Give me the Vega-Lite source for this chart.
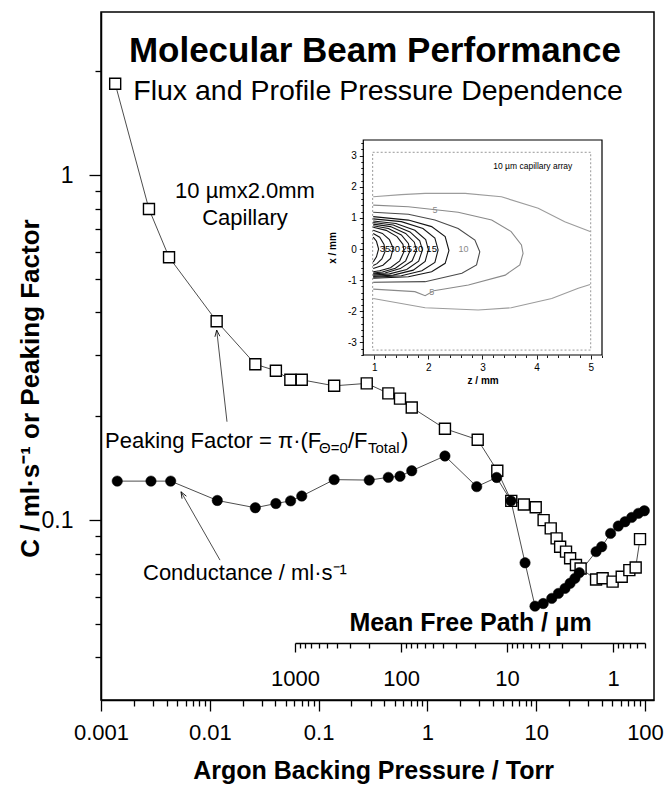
{
  "$schema": "https://vega.github.io/schema/vega-lite/v6.json",
  "width": 553,
  "height": 688,
  "autosize": "none",
  "padding": {"left": 101, "top": 12, "right": 13, "bottom": 86},
  "background": "white",
  "config": {
    "font": "Liberation Sans",
    "view": {"stroke": "black", "strokeWidth": 1.5},
    "axis": {"grid": false, "domainColor": "black", "tickColor": "black", "labelColor": "black", "titleColor": "black", "labelFont": "Liberation Sans", "titleFont": "Liberation Sans", "labelOverlap": false, "labelFlush": false, "labelBound": false}
  },
  "datasets": {
    "sq": [
      {"P": 0.00135, "C": 1.84}, {"P": 0.00276, "C": 0.797}, {"P": 0.00422, "C": 0.578}, {"P": 0.01156, "C": 0.377},
      {"P": 0.0262, "C": 0.283}, {"P": 0.0405, "C": 0.271}, {"P": 0.055, "C": 0.255}, {"P": 0.07, "C": 0.255},
      {"P": 0.139, "C": 0.245}, {"P": 0.277, "C": 0.249}, {"P": 0.4375, "C": 0.233}, {"P": 0.56, "C": 0.225},
      {"P": 0.718, "C": 0.212}, {"P": 1.45, "C": 0.184}, {"P": 2.9, "C": 0.171}, {"P": 4.39, "C": 0.139},
      {"P": 5.9, "C": 0.1137}, {"P": 7.7, "C": 0.111}, {"P": 9.9, "C": 0.109}, {"P": 11.7, "C": 0.1},
      {"P": 13.6, "C": 0.0946}, {"P": 15.4, "C": 0.0885}, {"P": 16.6, "C": 0.0837}, {"P": 18.8, "C": 0.081},
      {"P": 20.5, "C": 0.0775}, {"P": 23.2, "C": 0.0741}, {"P": 25.6, "C": 0.0724}, {"P": 35.5, "C": 0.0673},
      {"P": 40.8, "C": 0.0678}, {"P": 50.4, "C": 0.0663}, {"P": 61.1, "C": 0.0685}, {"P": 71.8, "C": 0.0716},
      {"P": 82.1, "C": 0.0729}, {"P": 90, "C": 0.0881}
    ],
    "ci": [
      {"P": 0.00141, "C": 0.1297}, {"P": 0.00288, "C": 0.1297}, {"P": 0.00437, "C": 0.1297}, {"P": 0.01172, "C": 0.114},
      {"P": 0.0262, "C": 0.1086}, {"P": 0.0405, "C": 0.1117}, {"P": 0.0553, "C": 0.1137}, {"P": 0.07, "C": 0.1174},
      {"P": 0.139, "C": 0.131}, {"P": 0.292, "C": 0.1306}, {"P": 0.4375, "C": 0.133}, {"P": 0.56, "C": 0.134},
      {"P": 0.718, "C": 0.139}, {"P": 1.45, "C": 0.1534}, {"P": 2.84, "C": 0.125}, {"P": 4.33, "C": 0.1329},
      {"P": 5.86, "C": 0.1137}, {"P": 7.9, "C": 0.0752}, {"P": 9.75, "C": 0.0563}, {"P": 11.6, "C": 0.0573},
      {"P": 13.9, "C": 0.0593}, {"P": 16.0, "C": 0.0613}, {"P": 18.4, "C": 0.0634}, {"P": 20.5, "C": 0.0656},
      {"P": 22.7, "C": 0.0678}, {"P": 24.9, "C": 0.0704}, {"P": 35.5, "C": 0.081}, {"P": 40.0, "C": 0.0837},
      {"P": 48.3, "C": 0.0915}, {"P": 56.8, "C": 0.0961}, {"P": 65.5, "C": 0.0989}, {"P": 75.5, "C": 0.1018},
      {"P": 86.9, "C": 0.1046}, {"P": 98.6, "C": 0.1064}
    ],
    "arrows": [
      {"arrow": "pf", "part": "tail", "P": 0.01439, "C": 0.1928},
      {"arrow": "pf", "part": "head", "P": 0.01157, "C": 0.3554},
      {"arrow": "cd", "part": "tail", "P": 0.01241, "C": 0.07656},
      {"arrow": "cd", "part": "head", "P": 0.005436, "C": 0.1208}
    ],
    "txt": [
      {"t": "Molecular Beam Performance", "P": 0.3296, "C": 2.126, "kind": "title"},
      {"t": "Flux and Profile Pressure Dependence", "P": 0.3516, "C": 1.65, "kind": "subtitle"},
      {"t": "10 µmx2.0mm", "P": 0.02106, "C": 0.858, "kind": "note"},
      {"t": "Capillary", "P": 0.02106, "C": 0.716, "kind": "note"},
      {"t": "Peaking Factor = π·(F", "P": 0.001088, "C": 0.1617, "kind": "label"},
      {"t": "Θ=0", "P": 0.1009, "C": 0.1564, "kind": "sub"},
      {"t": "/F", "P": 0.1863, "C": 0.1617, "kind": "label"},
      {"t": "Total", "P": 0.2844, "C": 0.1564, "kind": "sub"},
      {"t": ")", "P": 0.5721, "C": 0.1617, "kind": "label"},
      {"t": "Conductance / ml·s⁻¹", "P": 0.002432, "C": 0.067, "kind": "label"}
    ],
    "frames": [
      {"frame": "outer", "zmm": 0.797, "zmm2": 5.209, "xmm": -3.408, "xmm2": 3.505},
      {"frame": "inner", "zmm": 0.97, "zmm2": 5.0, "xmm": -3.25, "xmm2": 3.11}
    ],
    "contours": [
      {"c": "2.5t", "lev": "2.5", "i": 0, "zmm": 0.98, "xmm": 1.68}, {"c": "2.5t", "lev": "2.5", "i": 1, "zmm": 1.5, "xmm": 1.75},
      {"c": "2.5t", "lev": "2.5", "i": 2, "zmm": 1.94, "xmm": 1.79}, {"c": "2.5t", "lev": "2.5", "i": 3, "zmm": 2.68, "xmm": 1.79},
      {"c": "2.5t", "lev": "2.5", "i": 4, "zmm": 3.35, "xmm": 1.68}, {"c": "2.5t", "lev": "2.5", "i": 5, "zmm": 4.03, "xmm": 1.31},
      {"c": "2.5t", "lev": "2.5", "i": 6, "zmm": 4.52, "xmm": 0.88}, {"c": "2.5t", "lev": "2.5", "i": 7, "zmm": 4.99, "xmm": 0.56},
      {"c": "2.5b", "lev": "2.5", "i": 0, "zmm": 0.98, "xmm": -1.59}, {"c": "2.5b", "lev": "2.5", "i": 1, "zmm": 1.94, "xmm": -1.89},
      {"c": "2.5b", "lev": "2.5", "i": 2, "zmm": 2.92, "xmm": -1.96}, {"c": "2.5b", "lev": "2.5", "i": 3, "zmm": 3.53, "xmm": -1.89},
      {"c": "2.5b", "lev": "2.5", "i": 4, "zmm": 4.28, "xmm": -1.59}, {"c": "2.5b", "lev": "2.5", "i": 5, "zmm": 4.77, "xmm": -1.26},
      {"c": "2.5b", "lev": "2.5", "i": 6, "zmm": 4.99, "xmm": -1.14},
      {"c": "5", "lev": "5", "i": 0, "zmm": 0.98, "xmm": 1.41}, {"c": "5", "lev": "5", "i": 1, "zmm": 1.63, "xmm": 1.36},
      {"c": "5", "lev": "5", "i": 2, "zmm": 2.55, "xmm": 1.18}, {"c": "5", "lev": "5", "i": 3, "zmm": 3.17, "xmm": 0.93},
      {"c": "5", "lev": "5", "i": 4, "zmm": 3.53, "xmm": 0.56}, {"c": "5", "lev": "5", "i": 5, "zmm": 3.72, "xmm": 0.13},
      {"c": "5", "lev": "5", "i": 6, "zmm": 3.75, "xmm": -0.14}, {"c": "5", "lev": "5", "i": 7, "zmm": 3.69, "xmm": -0.51},
      {"c": "5", "lev": "5", "i": 8, "zmm": 3.42, "xmm": -0.84}, {"c": "5", "lev": "5", "i": 9, "zmm": 2.74, "xmm": -1.16},
      {"c": "5", "lev": "5", "i": 10, "zmm": 2.1, "xmm": -1.34}, {"c": "5", "lev": "5", "i": 11, "zmm": 1.94, "xmm": -1.5},
      {"c": "5", "lev": "5", "i": 12, "zmm": 1.75, "xmm": -1.37}, {"c": "5", "lev": "5", "i": 13, "zmm": 0.98, "xmm": -1.29},
      {"c": "10", "lev": "10", "i": 0, "zmm": 0.98, "xmm": 1.18}, {"c": "10", "lev": "10", "i": 1, "zmm": 1.63, "xmm": 1.12},
      {"c": "10", "lev": "10", "i": 2, "zmm": 2.12, "xmm": 0.93}, {"c": "10", "lev": "10", "i": 3, "zmm": 2.55, "xmm": 0.66},
      {"c": "10", "lev": "10", "i": 4, "zmm": 2.86, "xmm": 0.29}, {"c": "10", "lev": "10", "i": 5, "zmm": 2.95, "xmm": -0.09},
      {"c": "10", "lev": "10", "i": 6, "zmm": 2.89, "xmm": -0.51}, {"c": "10", "lev": "10", "i": 7, "zmm": 2.62, "xmm": -0.78},
      {"c": "10", "lev": "10", "i": 8, "zmm": 1.94, "xmm": -1.05}, {"c": "10", "lev": "10", "i": 9, "zmm": 0.98, "xmm": -1.07},
      {"c": "15", "lev": "15", "i": 0, "zmm": 0.98, "xmm": 1.04}, {"c": "15", "lev": "15", "i": 1, "zmm": 1.63, "xmm": 0.93},
      {"c": "15", "lev": "15", "i": 2, "zmm": 2.06, "xmm": 0.72}, {"c": "15", "lev": "15", "i": 3, "zmm": 2.31, "xmm": 0.4},
      {"c": "15", "lev": "15", "i": 4, "zmm": 2.38, "xmm": -0.05}, {"c": "15", "lev": "15", "i": 5, "zmm": 2.31, "xmm": -0.46},
      {"c": "15", "lev": "15", "i": 6, "zmm": 2.06, "xmm": -0.73}, {"c": "15", "lev": "15", "i": 7, "zmm": 1.63, "xmm": -0.89},
      {"c": "15", "lev": "15", "i": 8, "zmm": 0.98, "xmm": -0.94},
      {"c": "17.5", "lev": "17.5", "i": 0, "zmm": 0.98, "xmm": 0.97}, {"c": "17.5", "lev": "17.5", "i": 1, "zmm": 1.5, "xmm": 0.88},
      {"c": "17.5", "lev": "17.5", "i": 2, "zmm": 1.9, "xmm": 0.66}, {"c": "17.5", "lev": "17.5", "i": 3, "zmm": 2.12, "xmm": 0.35},
      {"c": "17.5", "lev": "17.5", "i": 4, "zmm": 2.18, "xmm": -0.03}, {"c": "17.5", "lev": "17.5", "i": 5, "zmm": 2.12, "xmm": -0.43},
      {"c": "17.5", "lev": "17.5", "i": 6, "zmm": 1.88, "xmm": -0.7}, {"c": "17.5", "lev": "17.5", "i": 7, "zmm": 1.5, "xmm": -0.86},
      {"c": "17.5", "lev": "17.5", "i": 8, "zmm": 0.98, "xmm": -0.91},
      {"c": "20", "lev": "20", "i": 0, "zmm": 0.98, "xmm": 0.9}, {"c": "20", "lev": "20", "i": 1, "zmm": 1.4, "xmm": 0.82},
      {"c": "20", "lev": "20", "i": 2, "zmm": 1.75, "xmm": 0.6}, {"c": "20", "lev": "20", "i": 3, "zmm": 1.95, "xmm": 0.3},
      {"c": "20", "lev": "20", "i": 4, "zmm": 2.0, "xmm": -0.02}, {"c": "20", "lev": "20", "i": 5, "zmm": 1.94, "xmm": -0.4},
      {"c": "20", "lev": "20", "i": 6, "zmm": 1.72, "xmm": -0.68}, {"c": "20", "lev": "20", "i": 7, "zmm": 1.35, "xmm": -0.84},
      {"c": "20", "lev": "20", "i": 8, "zmm": 0.98, "xmm": -0.88},
      {"c": "22.5", "lev": "22.5", "i": 0, "zmm": 0.98, "xmm": 0.85}, {"c": "22.5", "lev": "22.5", "i": 1, "zmm": 1.35, "xmm": 0.77},
      {"c": "22.5", "lev": "22.5", "i": 2, "zmm": 1.66, "xmm": 0.55}, {"c": "22.5", "lev": "22.5", "i": 3, "zmm": 1.84, "xmm": 0.26},
      {"c": "22.5", "lev": "22.5", "i": 4, "zmm": 1.89, "xmm": -0.03}, {"c": "22.5", "lev": "22.5", "i": 5, "zmm": 1.82, "xmm": -0.39},
      {"c": "22.5", "lev": "22.5", "i": 6, "zmm": 1.6, "xmm": -0.66}, {"c": "22.5", "lev": "22.5", "i": 7, "zmm": 1.28, "xmm": -0.8},
      {"c": "22.5", "lev": "22.5", "i": 8, "zmm": 0.98, "xmm": -0.84},
      {"c": "25", "lev": "25", "i": 0, "zmm": 0.98, "xmm": 0.8}, {"c": "25", "lev": "25", "i": 1, "zmm": 1.3, "xmm": 0.72},
      {"c": "25", "lev": "25", "i": 2, "zmm": 1.58, "xmm": 0.5}, {"c": "25", "lev": "25", "i": 3, "zmm": 1.74, "xmm": 0.22},
      {"c": "25", "lev": "25", "i": 4, "zmm": 1.78, "xmm": -0.05}, {"c": "25", "lev": "25", "i": 5, "zmm": 1.7, "xmm": -0.38},
      {"c": "25", "lev": "25", "i": 6, "zmm": 1.48, "xmm": -0.63}, {"c": "25", "lev": "25", "i": 7, "zmm": 1.2, "xmm": -0.77},
      {"c": "25", "lev": "25", "i": 8, "zmm": 0.98, "xmm": -0.8},
      {"c": "27.5", "lev": "27.5", "i": 0, "zmm": 0.98, "xmm": 0.75}, {"c": "27.5", "lev": "27.5", "i": 1, "zmm": 1.26, "xmm": 0.66},
      {"c": "27.5", "lev": "27.5", "i": 2, "zmm": 1.5, "xmm": 0.45}, {"c": "27.5", "lev": "27.5", "i": 3, "zmm": 1.63, "xmm": 0.18},
      {"c": "27.5", "lev": "27.5", "i": 4, "zmm": 1.66, "xmm": -0.06}, {"c": "27.5", "lev": "27.5", "i": 5, "zmm": 1.58, "xmm": -0.38},
      {"c": "27.5", "lev": "27.5", "i": 6, "zmm": 1.39, "xmm": -0.62}, {"c": "27.5", "lev": "27.5", "i": 7, "zmm": 1.15, "xmm": -0.74},
      {"c": "27.5", "lev": "27.5", "i": 8, "zmm": 0.98, "xmm": -0.77},
      {"c": "30", "lev": "30", "i": 0, "zmm": 0.98, "xmm": 0.7}, {"c": "30", "lev": "30", "i": 1, "zmm": 1.22, "xmm": 0.6},
      {"c": "30", "lev": "30", "i": 2, "zmm": 1.42, "xmm": 0.4}, {"c": "30", "lev": "30", "i": 3, "zmm": 1.53, "xmm": 0.15},
      {"c": "30", "lev": "30", "i": 4, "zmm": 1.55, "xmm": -0.08}, {"c": "30", "lev": "30", "i": 5, "zmm": 1.47, "xmm": -0.38},
      {"c": "30", "lev": "30", "i": 6, "zmm": 1.3, "xmm": -0.6}, {"c": "30", "lev": "30", "i": 7, "zmm": 1.1, "xmm": -0.7},
      {"c": "30", "lev": "30", "i": 8, "zmm": 0.98, "xmm": -0.73},
      {"c": "35", "lev": "35", "i": 0, "zmm": 0.98, "xmm": 0.6}, {"c": "35", "lev": "35", "i": 1, "zmm": 1.15, "xmm": 0.5},
      {"c": "35", "lev": "35", "i": 2, "zmm": 1.28, "xmm": 0.3}, {"c": "35", "lev": "35", "i": 3, "zmm": 1.35, "xmm": 0.02},
      {"c": "35", "lev": "35", "i": 4, "zmm": 1.3, "xmm": -0.3}, {"c": "35", "lev": "35", "i": 5, "zmm": 1.16, "xmm": -0.52},
      {"c": "35", "lev": "35", "i": 6, "zmm": 0.98, "xmm": -0.63},
      {"c": "40", "lev": "40", "i": 0, "zmm": 0.98, "xmm": 0.5}, {"c": "40", "lev": "40", "i": 1, "zmm": 1.1, "xmm": 0.38},
      {"c": "40", "lev": "40", "i": 2, "zmm": 1.18, "xmm": 0.15}, {"c": "40", "lev": "40", "i": 3, "zmm": 1.2, "xmm": -0.08},
      {"c": "40", "lev": "40", "i": 4, "zmm": 1.14, "xmm": -0.32}, {"c": "40", "lev": "40", "i": 5, "zmm": 1.05, "xmm": -0.47},
      {"c": "40", "lev": "40", "i": 6, "zmm": 0.98, "xmm": -0.53},
      {"c": "45", "lev": "45", "i": 0, "zmm": 0.98, "xmm": 0.38}, {"c": "45", "lev": "45", "i": 1, "zmm": 1.04, "xmm": 0.25},
      {"c": "45", "lev": "45", "i": 2, "zmm": 1.08, "xmm": 0.0}, {"c": "45", "lev": "45", "i": 3, "zmm": 1.04, "xmm": -0.25},
      {"c": "45", "lev": "45", "i": 4, "zmm": 0.98, "xmm": -0.42}
    ],
    "itxt": [
      {"t": "35", "zmm": 1.2, "xmm": 0, "kind": "num"},
      {"t": "30", "zmm": 1.38, "xmm": 0, "kind": "num"},
      {"t": "25", "zmm": 1.6, "xmm": 0, "kind": "num"},
      {"t": "20", "zmm": 1.81, "xmm": 0, "kind": "num"},
      {"t": "15", "zmm": 2.06, "xmm": 0, "kind": "num"},
      {"t": "10", "zmm": 2.65, "xmm": 0, "kind": "gray"},
      {"t": "5", "zmm": 2.12, "xmm": 1.25, "kind": "gray"},
      {"t": "5", "zmm": 2.06, "xmm": -1.37, "kind": "gray"},
      {"t": "10 µm capillary array", "zmm": 3.93, "xmm": 2.68, "kind": "cap"}
    ]
  },
  "resolve": {"scale": {"x": "independent", "y": "independent"}, "axis": {"x": "independent", "y": "independent"}},
  "layer": [
    {
      "encoding": {
        "x": {
          "field": "P", "type": "quantitative",
          "scale": {"type": "log", "domain": [0.001, 121], "nice": false},
          "axis": {
            "orient": "bottom",
            "values": [0.001,0.002,0.003,0.004,0.005,0.006,0.007,0.008,0.009,0.01,0.02,0.03,0.04,0.05,0.06,0.07,0.08,0.09,0.1,0.2,0.3,0.4,0.5,0.6,0.7,0.8,0.9,1,2,3,4,5,6,7,8,9,10,20,30,40,50,60,70,80,90,100],
            "labelExpr": "indexof([0.001,0.01,0.1,1,10,100], datum.value) >= 0 ? format(datum.value, '~g') : ''",
            "tickSize": {"condition": {"test": "indexof([0.001,0.01,0.1,1,10,100], datum.value) >= 0", "value": 11}, "value": 6},
            "tickWidth": 1.3, "domainWidth": 1.5,
            "labelPadding": 11, "labelFontSize": 22,
            "title": "Argon Backing Pressure / Torr", "titleFontSize": 25, "titleFontWeight": "bold",
            "titleX": 272, "titleY": 78, "titleAlign": "center", "titleBaseline": "alphabetic"
          }
        },
        "y": {
          "field": "C", "type": "quantitative",
          "scale": {"type": "log", "domain": [0.0301, 2.969], "nice": false},
          "axis": {
            "orient": "left",
            "values": [0.04,0.05,0.06,0.07,0.08,0.09,0.1,0.2,0.3,0.4,0.5,0.6,0.7,0.8,0.9,1,2],
            "labelExpr": "datum.value == 0.1 || datum.value == 1 ? format(datum.value, '~g') : ''",
            "tickSize": {"condition": {"test": "datum.value == 0.1 || datum.value == 1", "value": 12}, "value": 6},
            "tickWidth": 1.3, "domainWidth": 1.5,
            "labelPadding": 16, "labelFontSize": 23,
            "title": "C / ml·s⁻¹ or Peaking Factor", "titleFontSize": 26, "titleFontWeight": "bold",
            "titleX": -63, "titleY": 376, "titleAngle": 270, "titleAlign": "center", "titleBaseline": "alphabetic"
          }
        }
      },
      "layer": [
        {"data": {"name": "sq"}, "mark": {"type": "line", "stroke": "black", "strokeWidth": 0.7}},
        {"data": {"name": "ci"}, "mark": {"type": "line", "stroke": "black", "strokeWidth": 0.7}},
        {"data": {"name": "arrows"}, "mark": {"type": "line", "stroke": "black", "strokeWidth": 0.7}, "encoding": {"detail": {"field": "arrow"}}},
        {"data": {"name": "arrows"}, "transform": [{"filter": "datum.arrow == 'pf' && datum.part == 'head'"}],
         "mark": {"type": "point", "shape": "M -1 2.6 L 0 0 L 1 2.6", "size": 25, "angle": 353.6, "filled": false, "stroke": "black", "strokeWidth": 0.8, "opacity": 1}},
        {"data": {"name": "arrows"}, "transform": [{"filter": "datum.arrow == 'cd' && datum.part == 'head'"}],
         "mark": {"type": "point", "shape": "M -1 2.6 L 0 0 L 1 2.6", "size": 25, "angle": 330.3, "filled": false, "stroke": "black", "strokeWidth": 0.8, "opacity": 1}},
        {"data": {"name": "sq"}, "mark": {"type": "point", "shape": "square", "size": 121, "filled": true, "fill": "white", "stroke": "black", "strokeWidth": 1.4, "opacity": 1}},
        {"data": {"name": "ci"}, "mark": {"type": "point", "shape": "circle", "size": 108, "filled": true, "fill": "black", "stroke": "black", "strokeWidth": 0.5, "opacity": 1}},
        {"data": {"name": "txt"}, "transform": [{"filter": "datum.kind == 'title'"}],
         "mark": {"type": "text", "fontSize": 35, "fontWeight": "bold", "align": "center", "baseline": "alphabetic", "color": "black"},
         "encoding": {"text": {"field": "t"}}},
        {"data": {"name": "txt"}, "transform": [{"filter": "datum.kind == 'subtitle'"}],
         "mark": {"type": "text", "fontSize": 28.5, "align": "center", "baseline": "alphabetic", "color": "black"},
         "encoding": {"text": {"field": "t"}}},
        {"data": {"name": "txt"}, "transform": [{"filter": "datum.kind == 'note'"}],
         "mark": {"type": "text", "fontSize": 22, "align": "center", "baseline": "alphabetic", "color": "black"},
         "encoding": {"text": {"field": "t"}}},
        {"data": {"name": "txt"}, "transform": [{"filter": "datum.kind == 'label'"}],
         "mark": {"type": "text", "fontSize": 22, "align": "left", "baseline": "alphabetic", "color": "black"},
         "encoding": {"text": {"field": "t"}}},
        {"data": {"name": "txt"}, "transform": [{"filter": "datum.kind == 'sub'"}],
         "mark": {"type": "text", "fontSize": 15, "align": "left", "baseline": "alphabetic", "color": "black"},
         "encoding": {"text": {"field": "t"}}}
      ]
    },
    {
      "mark": {"type": "point", "opacity": 0},
      "encoding": {
        "x": {
          "datum": 1000, "type": "quantitative",
          "scale": {"type": "log", "domain": [1000, 0.5], "range": [194, 544], "nice": false},
          "axis": {
            "orient": "bottom", "offset": -57,
            "values": [1000,900,800,700,600,500,400,300,200,100,90,80,70,60,50,40,30,20,10,9,8,7,6,5,4,3,2,1,0.9,0.8,0.7,0.6,0.5],
            "labelExpr": "indexof([1000,100,10,1], datum.value) >= 0 ? format(datum.value, '~g') : ''",
            "tickSize": {"condition": {"test": "indexof([1000,100,10,1], datum.value) >= 0", "value": 9}, "value": 5},
            "tickWidth": 1.3, "domainWidth": 1.5,
            "labelPadding": 16, "labelFontSize": 22,
            "title": "Mean Free Path / µm", "titleFontSize": 25, "titleFontWeight": "bold",
            "titleX": 369, "titleY": -13, "titleAlign": "center", "titleBaseline": "alphabetic"
          }
        }
      }
    },
    {
      "encoding": {
        "x": {
          "field": "zmm", "type": "quantitative",
          "scale": {"domain": [0.797, 5.209], "range": [262.3, 501], "nice": false, "zero": false},
          "axis": {
            "orient": "bottom", "offset": -345, "domain": false,
            "values": [1,1.2,1.4,1.6,1.8,2,2.2,2.4,2.6,2.8,3,3.2,3.4,3.6,3.8,4,4.2,4.4,4.6,4.8,5,5.2],
            "labelExpr": "datum.value == round(datum.value) ? '' + datum.value : ''",
            "tickSize": {"condition": {"test": "datum.value == round(datum.value)", "value": 4}, "value": 2.5},
            "tickWidth": 0.9, "labelPadding": 3, "labelFontSize": 10,
            "title": "z / mm", "titleFontSize": 10, "titleFontWeight": "bold", "titlePadding": 3
          }
        },
        "y": {
          "field": "xmm", "type": "quantitative",
          "scale": {"domain": [-3.408, 3.505], "range": [343, 128], "nice": false, "zero": false},
          "axis": {
            "orient": "left", "offset": -262.3, "domain": false,
            "values": [-3.4,-3.2,-3,-2.8,-2.6,-2.4,-2.2,-2,-1.8,-1.6,-1.4,-1.2,-1,-0.8,-0.6,-0.4,-0.2,0,0.2,0.4,0.6,0.8,1,1.2,1.4,1.6,1.8,2,2.2,2.4,2.6,2.8,3,3.2,3.4],
            "labelExpr": "datum.value == round(datum.value) ? '' + datum.value : ''",
            "tickSize": {"condition": {"test": "datum.value == round(datum.value)", "value": 4}, "value": 2.5},
            "tickWidth": 0.9, "labelPadding": 3, "labelFontSize": 10,
            "title": "x / mm", "titleFontSize": 10, "titleFontWeight": "bold", "titlePadding": 10
          }
        }
      },
      "layer": [
        {"data": {"name": "frames"}, "transform": [{"filter": "datum.frame == 'inner'"}],
         "mark": {"type": "rect", "filled": false, "stroke": "#8c8c8c", "strokeWidth": 0.9, "strokeDash": [2, 2]},
         "encoding": {"x2": {"field": "zmm2"}, "y2": {"field": "xmm2"}}},
        {"data": {"name": "contours"},
         "mark": {"type": "line", "strokeWidth": 1.1},
         "encoding": {
           "detail": {"field": "c"},
           "order": {"field": "i", "type": "quantitative"},
           "color": {"field": "lev", "type": "nominal", "legend": null,
                     "scale": {"domain": ["2.5","5","10","15","17.5","20","22.5","25","27.5","30","35","40","45"],
                               "range": ["#9c9c9c","#8a8a8a","#4a4a4a","#141414","#141414","#141414","#141414","#141414","#141414","#141414","#141414","#141414","#141414"]}}
         }},
        {"data": {"name": "frames"}, "transform": [{"filter": "datum.frame == 'outer'"}],
         "mark": {"type": "rect", "filled": false, "stroke": "black", "strokeWidth": 1.2},
         "encoding": {"x2": {"field": "zmm2"}, "y2": {"field": "xmm2"}}},
        {"data": {"name": "itxt"}, "transform": [{"filter": "datum.kind == 'num'"}],
         "mark": {"type": "text", "fontSize": 9.5, "align": "center", "baseline": "middle", "color": "black"},
         "encoding": {"text": {"field": "t"}}},
        {"data": {"name": "itxt"}, "transform": [{"filter": "datum.kind == 'gray'"}],
         "mark": {"type": "text", "fontSize": 9, "align": "center", "baseline": "middle", "color": "#8a8a8a"},
         "encoding": {"text": {"field": "t"}}},
        {"data": {"name": "itxt"}, "transform": [{"filter": "datum.kind == 'cap'"}],
         "mark": {"type": "text", "fontSize": 8.5, "align": "center", "baseline": "middle", "color": "black"},
         "encoding": {"text": {"field": "t"}}}
      ]
    }
  ]
}
